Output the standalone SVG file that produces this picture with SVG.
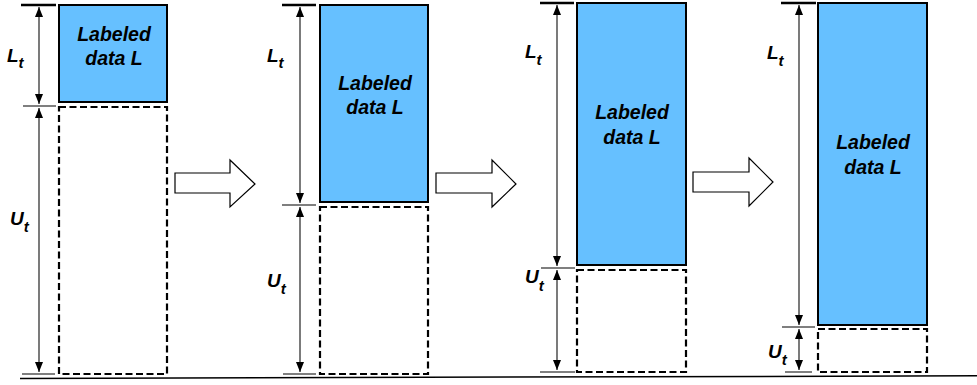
<svg xmlns="http://www.w3.org/2000/svg" width="977" height="385" viewBox="0 0 977 385">
  <defs>
    <marker id="tip" viewBox="0 0 10 8" refX="10" refY="4" markerWidth="10" markerHeight="8" markerUnits="userSpaceOnUse" orient="auto-start-reverse">
      <path d="M0,0 L10,4 L0,8 z" fill="#000"/>
    </marker>
  </defs>
  <style>
    .lab { fill: #66C0FF; stroke: #000; stroke-width: 2; }
    .unl { fill: #fff; stroke: #000; stroke-width: 2.2; stroke-dasharray: 7 3.5; }
    .txt { font-family: "Liberation Sans", Arial, sans-serif; font-weight: bold; font-style: italic; font-size: 19.5px; fill: #000; text-anchor: middle; }
    .sym { font-family: "Liberation Sans", Arial, sans-serif; font-weight: bold; font-style: italic; font-size: 19px; fill: #000; }
    .sub { font-size: 15px; }
    .dim { stroke: #222; stroke-width: 1.2; fill: none; marker-start: url(#tip); marker-end: url(#tip); }
    .cap { stroke: #000; stroke-width: 2.5; }
    .tick { stroke: #555; stroke-width: 1.5; }
    .step { fill: #fff; stroke: #000; stroke-width: 1.2; }
  </style>

  <!-- ground line -->
  <line x1="20" y1="378.5" x2="977" y2="375.8" stroke="#000" stroke-width="1.5"/>

  <!-- stage 1 -->
  <g id="stage1">
    <rect class="unl" x="59" y="107" width="108" height="267"/>
    <rect class="lab" x="59" y="5" width="108" height="97"/>
    <text class="txt" x="114" y="41">Labeled</text>
    <text class="txt" x="114" y="65">data L</text>
    <line class="cap" x1="21" y1="5" x2="56" y2="5"/>
    <line class="tick" x1="23" y1="106" x2="56" y2="106"/>
    <line class="tick" x1="22" y1="374" x2="55" y2="374"/>
    <text class="sym" x="7" y="62">L<tspan class="sub" dy="6">t</tspan></text>
    <text class="sym" x="10" y="225">U<tspan class="sub" dy="7">t</tspan></text>
  </g>

  <!-- stage 2 -->
  <g id="stage2">
    <rect class="unl" x="320" y="207" width="108" height="167"/>
    <rect class="lab" x="320" y="5" width="108" height="197"/>
    <text class="txt" x="375" y="90">Labeled</text>
    <text class="txt" x="375" y="114">data L</text>
    <line class="cap" x1="282" y1="5" x2="316" y2="5"/>
    <line class="tick" x1="282" y1="205" x2="316" y2="205"/>
    <line class="tick" x1="283" y1="374" x2="316" y2="374"/>
    <text class="sym" x="267" y="62">L<tspan class="sub" dy="6">t</tspan></text>
    <text class="sym" x="267" y="287">U<tspan class="sub" dy="7">t</tspan></text>
  </g>

  <!-- stage 3 -->
  <g id="stage3">
    <rect class="unl" x="577" y="270" width="109" height="102"/>
    <rect class="lab" x="577" y="3" width="109" height="262"/>
    <text class="txt" x="632" y="119">Labeled</text>
    <text class="txt" x="632" y="144">data L</text>
    <line class="cap" x1="540" y1="3" x2="574" y2="3"/>
    <line class="tick" x1="541" y1="268" x2="575" y2="268"/>
    <line class="tick" x1="540" y1="372" x2="575" y2="372"/>
    <text class="sym" x="525" y="58">L<tspan class="sub" dy="7">t</tspan></text>
    <text class="sym" x="525" y="283">U<tspan class="sub" dy="8">t</tspan></text>
  </g>

  <!-- stage 4 -->
  <g id="stage4">
    <rect class="unl" x="818" y="329" width="109" height="43"/>
    <rect class="lab" x="818" y="3" width="109" height="322"/>
    <text class="txt" x="873" y="149">Labeled</text>
    <text class="txt" x="873" y="174">data L</text>
    <line class="cap" x1="781" y1="3" x2="816" y2="3"/>
    <line class="tick" x1="782" y1="327" x2="815" y2="327"/>
    <line class="tick" x1="785" y1="372" x2="812" y2="372"/>
    <text class="sym" x="767" y="59">L<tspan class="sub" dy="7">t</tspan></text>
    <text class="sym" x="768" y="358">U<tspan class="sub" dy="7">t</tspan></text>
  </g>

  <!-- connectors: dimension arrows and step arrows -->
  <g id="connectors">
    <line class="dim" x1="39" y1="7" x2="39" y2="104"/>
    <line class="dim" x1="39" y1="108" x2="39" y2="372"/>
    <line class="dim" x1="300" y1="7" x2="300" y2="203"/>
    <line class="dim" x1="300" y1="207" x2="300" y2="372"/>
    <line class="dim" x1="557" y1="5" x2="557" y2="266"/>
    <line class="dim" x1="557" y1="270" x2="557" y2="370"/>
    <line class="dim" x1="799" y1="5" x2="799" y2="325"/>
    <line class="dim" x1="799" y1="329" x2="799" y2="370"/>

    <path class="step" d="M175,173 H230 V160 L255,184 L230,207 V193 H175 Z"/>
    <path class="step" d="M436,173 H492 V160 L516,184 L492,207 V193 H436 Z"/>
    <path class="step" d="M693,172 H749 V158 L773,182 L749,206 V192 H693 Z"/>
  </g>
</svg>
